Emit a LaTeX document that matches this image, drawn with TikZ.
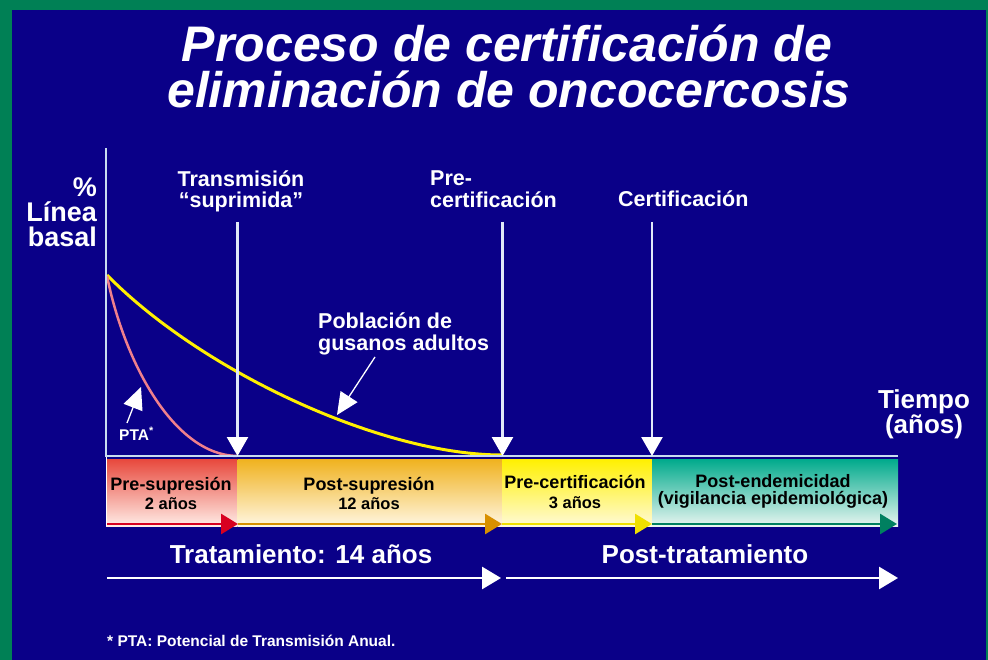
\documentclass[tikz,border=0pt]{standalone}
\usepackage{fontspec}
\setmainfont{Liberation Sans}
\usetikzlibrary{arrows.meta}
\definecolor{navy}{RGB}{10,0,136}
\definecolor{frame}{RGB}{0,128,85}
\definecolor{axisblue}{RGB}{200,220,240}
\definecolor{curveyellow}{RGB}{255,240,0}
\definecolor{curvepink}{RGB}{240,128,140}
\definecolor{redtop}{RGB}{232,72,60}
\definecolor{redbot}{RGB}{255,236,230}
\definecolor{orgtop}{RGB}{240,178,30}
\definecolor{orgbot}{RGB}{255,246,225}
\definecolor{yeltop}{RGB}{255,240,0}
\definecolor{yelbot}{RGB}{255,250,215}
\definecolor{grntop}{RGB}{0,170,140}
\definecolor{grnbot}{RGB}{232,245,240}
\definecolor{redarr}{RGB}{216,0,32}
\definecolor{orgarr}{RGB}{216,144,0}
\definecolor{yelarr}{RGB}{240,224,0}
\definecolor{grnarr}{RGB}{0,128,96}
\definecolor{shaft}{RGB}{225,232,248}
\begin{document}
\begin{tikzpicture}[x=1pt,y=-1pt,
  title/.style={text=white,font=\fontsize{50}{46}\selectfont\bfseries\itshape,inner sep=0pt,anchor=base},
  wlbl/.style={text=white,font=\fontsize{21.5}{24}\selectfont\bfseries,inner sep=0pt,anchor=base},
  biglbl/.style={text=white,font=\fontsize{27}{25}\selectfont\bfseries,inner sep=0pt,anchor=base},
  timelbl/.style={text=white,font=\fontsize{26}{24}\selectfont\bfseries,inner sep=0pt,anchor=base},
  treat/.style={text=white,font=\fontsize{26}{28}\selectfont\bfseries,inner sep=0pt,anchor=base},
  barA/.style={text=black,font=\fontsize{18}{20}\selectfont\bfseries,inner sep=0pt,anchor=base},
  barB/.style={text=black,font=\fontsize{16.5}{18}\selectfont\bfseries,inner sep=0pt,anchor=base},
  small/.style={text=white,font=\fontsize{15.5}{17}\selectfont\bfseries,inner sep=0pt,anchor=base},
  vtick/.style={draw=shaft,line width=2.6pt,-{Triangle[length=19pt,width=21pt,fill=white,color=white]}},
  pointer/.style={draw=white,line width=1.3pt,-{Triangle[length=22pt,width=20pt,fill=white]}},
  bararrow/.style={line width=2.8pt,-{Triangle[length=17pt,width=20pt]}},
  phase/.style={draw=white,line width=2.8pt,-{Triangle[length=19pt,width=22pt,fill=white]}},
  axisline/.style={draw=axisblue,line width=2pt},
]
\useasboundingbox (0,0) rectangle (988,660);
% background
\fill[frame] (0,0) rectangle (988,660);
\fill[navy] (11.5,10) rectangle (986,660);

% title
\node[title] (t1) at (507,62) {Proceso de certificación de};
\node[title] (t2) at (509,108) {eliminación de oncocercosis};

% phase bars
\fill[top color=redtop,bottom color=redbot] (106,459) rectangle (237.5,526);
\fill[top color=orgtop,bottom color=orgbot] (237.5,459) rectangle (502,526);
\fill[top color=yeltop,bottom color=yelbot] (502,459) rectangle (652,526);
\fill[top color=grntop,bottom color=grnbot] (652,459) rectangle (898,526);
\draw[white,line width=0.8pt] (106.4,456) -- (106.4,526);

% bar arrows
\coordinate (b0) at (107,524);
\coordinate (b1) at (238,524);
\coordinate (b2) at (502,524);
\coordinate (b3) at (652,524);
\coordinate (b4) at (897,524);
\draw[bararrow,draw=redarr,fill=redarr] (b0) -- (b1);
\draw[bararrow,draw=orgarr,fill=orgarr] (b1) -- (b2);
\draw[bararrow,draw=yelarr,fill=yelarr] (b2) -- (b3);
\draw[bararrow,draw=grnarr,fill=grnarr] (b3) -- (b4);

% bar texts
\node[barA] (p1a) at (171,490) {Pre-supresión};
\node[barB] (p1b) at (171,509) {2 años};
\node[barA] (p2a) at (369,490) {Post-supresión};
\node[barB] (p2b) at (369,509) {12 años};
\node[barA] (p3a) at (575,488) {Pre-certificación};
\node[barB] (p3b) at (575,508) {3 años};
\node[barA] (p4a) at (773,487) {Post-endemicidad};
\node[barA] (p4b) at (773,504) {(vigilancia epidemiológica)};

% curves
\draw[curveyellow,line width=3pt] (107,275) .. controls (200,370) and (380,455) .. (502,455);
\draw[curvepink,line width=2.5pt] (107,276) .. controls (125,365) and (175,455) .. (237,456);

% axes
\coordinate (o) at (106,456);
\coordinate (ytop) at (106,148);
\coordinate (xend) at (898,456);
\draw[axisline] (ytop) -- (o) -- (xend);

% milestone arrows
\coordinate (m1s) at (237.5,222);
\coordinate (m1e) at (237.5,456);
\coordinate (m2s) at (502.5,222);
\coordinate (m2e) at (502.5,456);
\coordinate (m3s) at (652,222);
\coordinate (m3e) at (652,456);
\draw[vtick] (m1s) -- (m1e);
\draw[vtick] (m2s) -- (m2e);
\draw[vtick] (m3s) -- (m3e);

% labels
\node[wlbl] (l1a) at (241,187) {Transmisión};
\node[wlbl] (l1b) at (241,208) {“suprimida”};
\node[wlbl,anchor=base west] (l2a) at (430,186) {Pre-};
\node[wlbl,anchor=base west] (l2b) at (430,208) {certificación};
\node[wlbl,anchor=base west] (l3) at (618,207) {Certificación};

\node[biglbl,anchor=base east] (y1) at (97,197) {\%};
\node[biglbl,anchor=base east] (y2) at (97,222) {Línea};
\node[biglbl,anchor=base east] (y3) at (97,247) {basal};

\node[timelbl] (x1) at (924,408) {Tiempo};
\node[timelbl] (x2) at (924,433) {(años)};

\node[wlbl,anchor=base west] (g1) at (318,329) {Población de};
\node[wlbl,anchor=base west] (g2) at (318,350) {gusanos adultos};
\coordinate (gs) at (375,357);
\coordinate (ge) at (337,415);
\draw[pointer] (gs) -- (ge);

\node[small,anchor=base west] (pta) at (119,440) {PTA\textsuperscript{*}};
\coordinate (ps) at (127,423);
\coordinate (pe) at (141,387);
\draw[pointer] (ps) -- (pe);

% treatment phases
\node[treat] (tr1) at (301,563) {Tratamiento: 14 años};
\node[treat] (tr2) at (705,563) {Post-tratamiento};
\coordinate (a0) at (107,578);
\coordinate (a1) at (501,578);
\coordinate (a2) at (506,578);
\coordinate (a3) at (898,578);
\draw[phase] (a0) -- (a1);
\draw[phase] (a2) -- (a3);

% footnote
\node[small,anchor=base west] (fn) at (107,646) {* PTA: Potencial de Transmisión Anual.};
\end{tikzpicture}
\end{document}
